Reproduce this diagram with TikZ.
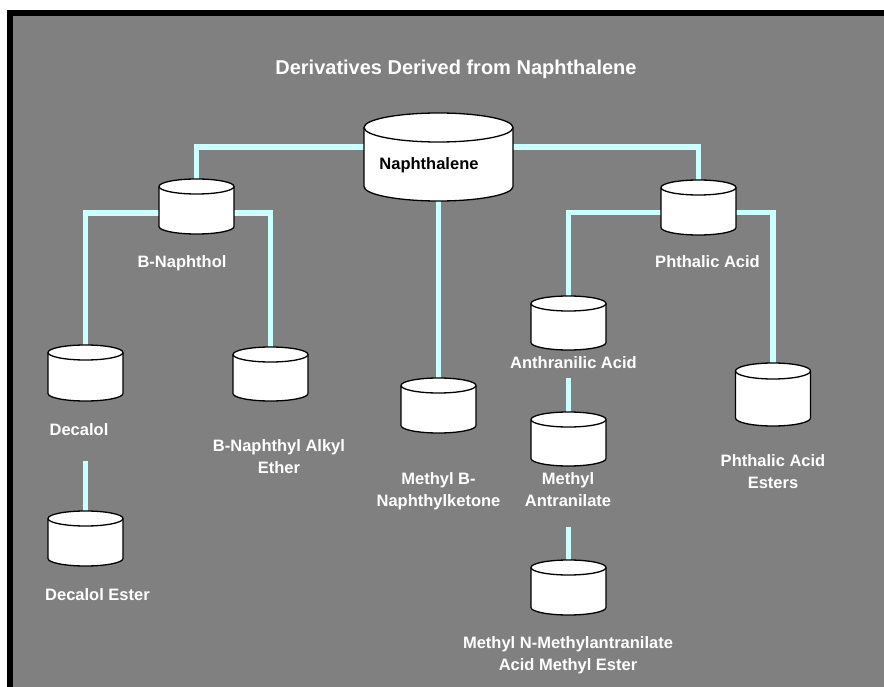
\documentclass[tikz,border=0pt]{standalone}
\usepackage{fontspec}
\setmainfont{Liberation Sans}
\pgfdeclarelayer{back}
\pgfdeclarelayer{wires}
\pgfsetlayers{back,wires,main}
\definecolor{panelgray}{RGB}{128,128,128}
\definecolor{wirecyan}{RGB}{204,255,255}
\tikzset{
  vesselline/.style={draw=black,fill=white,line width=1.3pt},
  wire/.style={draw=wirecyan,line width=5.5pt,line join=miter,line cap=butt},
  lbl/.style={text=white,font=\fontsize{16.5}{21.5}\selectfont\bfseries,inner sep=0pt,align=center},
  ttl/.style={text=white,font=\fontsize{20}{24}\selectfont\bfseries,inner sep=0pt}
}
% \vessel{name}{centre x}{top y}{bottom y}{x radius}{y radius}; y values grow downwards
\newcommand\vessel[6]{%
  \pgfmathsetmacro\vL{#2-#5}\pgfmathsetmacro\vR{#2+#5}%
  \pgfmathsetmacro\vT{-(#3)-(#6)}\pgfmathsetmacro\vB{-(#4)+(#6)}%
  \filldraw[vesselline] (\vL,\vT) -- (\vL,\vB)
    arc[start angle=180,end angle=360,x radius=#5,y radius=#6]
    -- (\vR,\vT) arc[start angle=0,end angle=180,x radius=#5,y radius=#6] -- cycle;
  \draw[vesselline,fill=none] (\vL,\vT) arc[start angle=180,end angle=360,x radius=#5,y radius=#6];
  \pgfmathsetmacro\vW{2*(#5)}\pgfmathsetmacro\vH{(#4)-(#3)}\pgfmathsetmacro\vC{-((#3)+(#4))/2}%
  \node[inner sep=0pt,outer sep=0pt,minimum width=\vW pt,minimum height=\vH pt] (#1) at (#2,\vC) {};
}
\begin{document}
\begin{tikzpicture}[x=1pt,y=1pt]
\useasboundingbox (0,0) rectangle (884,-687);
\begin{pgfonlayer}{back}
  \fill[white] (0,0) rectangle (884,-687);
  \fill[black] (7,-10) rectangle (884,-687);
  \fill[panelgray] (13,-16) rectangle (884,-687);
\end{pgfonlayer}

\node[ttl,anchor=base] (title) at (456,-75) {Derivatives Derived from Naphthalene};

% vessels
\vessel{napht}{438.5}{113}{201}{74.5}{14.5}
\vessel{bnaph}{196.5}{179}{234}{37.5}{7.5}
\vessel{phth}{698.5}{180}{235}{37.5}{7.5}
\vessel{decalol}{85.5}{345}{401}{37.5}{7.5}
\vessel{decest}{85.5}{511}{566}{37.5}{7.5}
\vessel{ether}{270.5}{347}{401}{37.5}{7.5}
\vessel{methb}{438.5}{378}{433}{37.5}{7.5}
\vessel{anthr}{568.5}{296}{350}{37.5}{7.5}
\vessel{methant}{568.5}{412}{466}{37.5}{7.5}
\vessel{mnm}{568.5}{560}{615}{37.5}{7.5}
\vessel{pest}{773}{363}{426}{37.5}{8}

% labels (anchor=base sits on the last line's baseline)
\node[lbl,text=black,anchor=base] (tNapht) at (429,-170) {Naphthalene};
\node[lbl,anchor=base] (tBnaph) at (182,-268) {B-Naphthol};
\node[lbl,anchor=base] (tPhth) at (707.5,-268) {Phthalic Acid};
\node[lbl,anchor=base] (tDecalol) at (79,-435) {Decalol};
\node[lbl,anchor=base] (tDecest) at (97.5,-600) {Decalol Ester};
\node[lbl,anchor=base] (tEther) at (279,-473) {B-Naphthyl Alkyl\\Ether};
\node[lbl,anchor=base] (tMethb) at (438.5,-506) {Methyl B-\\Naphthylketone};
\node[lbl,anchor=base] (tAnthr) at (573.5,-368) {Anthranilic Acid};
\node[lbl,anchor=base] (tMethant) at (568,-506) {Methyl\\Antranilate};
\node[lbl,anchor=base] (tMnm) at (568,-670) {Methyl N-Methylantranilate\\Acid Methyl Ester};
\node[lbl,anchor=base] (tPest) at (773,-488) {Phthalic Acid\\Esters};

% free upper ends of the short links below labels
\coordinate (dcTop) at (85.5,-461);
\coordinate (maTop) at (568.5,-378);
\coordinate (mnTop) at (568.5,-527);

% links
\begin{pgfonlayer}{wires}
  \draw[wire] ([yshift=10pt]napht.west) -| (bnaph.north);
  \draw[wire] ([yshift=10pt]napht.east) -| (phth.north);
  \draw[wire] (napht.south) -- (methb.north);
  \draw[wire] ([yshift=-6.5pt]bnaph.west) -| (decalol.north);
  \draw[wire] ([yshift=-6.5pt]bnaph.east) -| (ether.north);
  \draw[wire] ([yshift=-5pt]phth.west) -| (anthr.north);
  \draw[wire] ([yshift=-5pt]phth.east) -| (pest.north);
  \draw[wire] (dcTop) -- (decest.north);
  \draw[wire] (maTop) -- (methant.north);
  \draw[wire] (mnTop) -- (mnm.north);
\end{pgfonlayer}
\end{tikzpicture}
\end{document}
